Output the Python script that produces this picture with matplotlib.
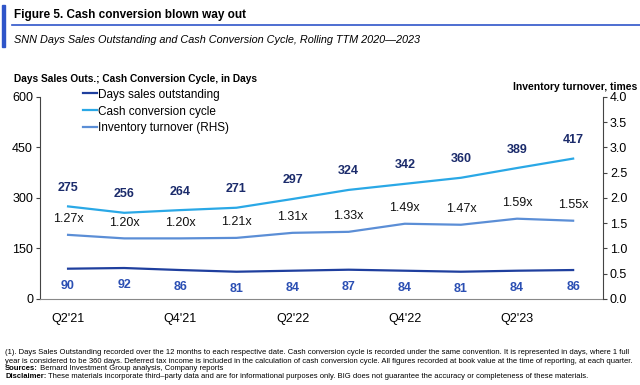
import matplotlib
matplotlib.use("Agg")
import matplotlib.pyplot as plt
from matplotlib.lines import Line2D

plt.rcParams['font.family'] = ['Liberation Sans', 'DejaVu Sans']

quarters = ["Q2'21", "Q3'21", "Q4'21", "Q1'22", "Q2'22", "Q3'22", "Q4'22", "Q1'23", "Q2'23", "Q3'23"]
dso = [90, 92, 86, 81, 84, 87, 84, 81, 84, 86]
ccc = [275, 256, 264, 271, 297, 324, 342, 360, 389, 417]
inv_turn = [1.27, 1.20, 1.20, 1.21, 1.31, 1.33, 1.49, 1.47, 1.59, 1.55]

c_dso = "#1f3f9e"
c_ccc = "#2aa8e6"
c_inv = "#5b8ed6"
c_lbl_ccc = "#1b2b6b"
c_lbl_dso = "#2b4fb3"
c_title_bar = "#2f55c9"

fig = plt.figure(figsize=(6.4, 3.85), dpi=100)
ax = fig.add_axes([0.0625, 0.2234, 0.8795, 0.5247])
ax2 = ax.twinx()

x = list(range(len(quarters)))
ax.plot(x, dso, color=c_dso, lw=1.6)
ax.plot(x, ccc, color=c_ccc, lw=1.6)
ax2.plot(x, inv_turn, color=c_inv, lw=1.6)

# data labels
for i in x:
    ax.annotate(str(ccc[i]), (i, ccc[i]), xytext=(0, 9), textcoords="offset points",
                ha="center", va="bottom", fontsize=9, fontweight="bold", color=c_lbl_ccc)
    ax.annotate(str(dso[i]), (i, dso[i]), xytext=(0, -8), textcoords="offset points",
                ha="center", va="top", fontsize=9, fontweight="bold", color=c_lbl_dso)
    ax2.annotate(f"{inv_turn[i]:.2f}x", (i, inv_turn[i]), xytext=(0, 7), textcoords="offset points",
                 ha="center", va="bottom", fontsize=9, color="#111111")

ax.set_xlim(-0.5, 9.53)
ax.set_ylim(0, 600)
ax.set_yticks([0, 150, 300, 450, 600])
ax2.set_ylim(0, 4)
ax2.set_yticks([0, 0.5, 1.0, 1.5, 2.0, 2.5, 3.0, 3.5, 4.0])
ax2.set_yticklabels([f"{v:.1f}" for v in ax2.get_yticks()])
ax.set_xticks(x[::2])
ax.set_xticklabels(quarters[::2])

for a in (ax, ax2):
    a.spines['top'].set_visible(False)
    for s in ('left', 'right', 'bottom'):
        a.spines[s].set_color("#444444")
        a.spines[s].set_linewidth(0.8)
    a.tick_params(axis='y', labelsize=9, length=3, width=0.8, color="#444444", pad=2)
ax.spines['right'].set_visible(False)
ax2.spines['left'].set_visible(False)
ax2.spines['bottom'].set_visible(False)
ax.spines['bottom'].set_color("#888888")
ax.tick_params(axis='x', labelsize=9, length=0, pad=10)

handles = [Line2D([0], [0], color=c_dso, lw=1.6),
           Line2D([0], [0], color=c_ccc, lw=1.6),
           Line2D([0], [0], color=c_inv, lw=1.6)]
ax.legend(handles, ["Days sales outstanding", "Cash conversion cycle", "Inventory turnover (RHS)"],
          loc="upper left", bbox_to_anchor=(0.068, 1.065), frameon=False, fontsize=8.5,
          handlelength=1.2, handletextpad=0.1, labelspacing=0.42, borderaxespad=0)

# header
fig.patches.append(plt.Rectangle((0.003, 1 - 47 / 385), 0.005, 42 / 385, transform=fig.transFigure,
                                 color=c_title_bar, zorder=5))
fig.lines.append(Line2D([0.018, 1.0], [1 - 25 / 385, 1 - 25 / 385], transform=fig.transFigure,
                        color=c_title_bar, lw=1.2))
fig.text(0.022, 1 - 15 / 385, "Figure 5. Cash conversion blown way out", fontsize=8.5,
         fontweight="bold", va="center", ha="left")
fig.text(0.022, 1 - 40 / 385, "SNN Days Sales Outstanding and Cash Conversion Cycle, Rolling TTM 2020\u20142023",
         fontsize=7.8, style="italic", va="center", ha="left")
fig.text(0.022, 1 - 79 / 385, "Days Sales Outs.; Cash Conversion Cycle, in Days", fontsize=7.3,
         fontweight="bold", va="center", ha="left")
fig.text(0.995, 1 - 87 / 385, "Inventory turnover, times", fontsize=7.5,
         fontweight="bold", va="center", ha="right")

# footnotes
foot_fs = 5.5
foot = ("(1). Days Sales Outstanding recorded over the 12 months to each respective date. Cash conversion cycle is recorded "
        "under the same convention. It is represented in days, where 1 full\nyear is considered to be 360 days. Deferred tax "
        "income is included in the calculation of cash conversion cycle. All figures recorded at book value at the time of "
        "reporting, at each quarter.")
fig.text(0.008, 1 - 357 / 385, foot, fontsize=foot_fs, va="center", ha="left", linespacing=1.3)

src_lbl = fig.text(0.008, 1 - 368 / 385, "Sources:", fontsize=foot_fs, fontweight="bold",
                   va="center", ha="left")
plt.annotate(" Bernard Investment Group analysis, Company reports", xy=(1, 0.5), xycoords=src_lbl,
             fontsize=foot_fs, va="center", ha="left")

dis_lbl = fig.text(0.008, 1 - 376.5 / 385, "Disclaimer:", fontsize=foot_fs, fontweight="bold",
                   va="center", ha="left")
plt.annotate(" These materials incorporate third\u2013party data and are for informational purposes only. "
             "BIG does not guarantee the accuracy or completeness of these materials.",
             xy=(1, 0.5), xycoords=dis_lbl, fontsize=foot_fs, va="center", ha="left")

fig.savefig("out.png", dpi=100)
